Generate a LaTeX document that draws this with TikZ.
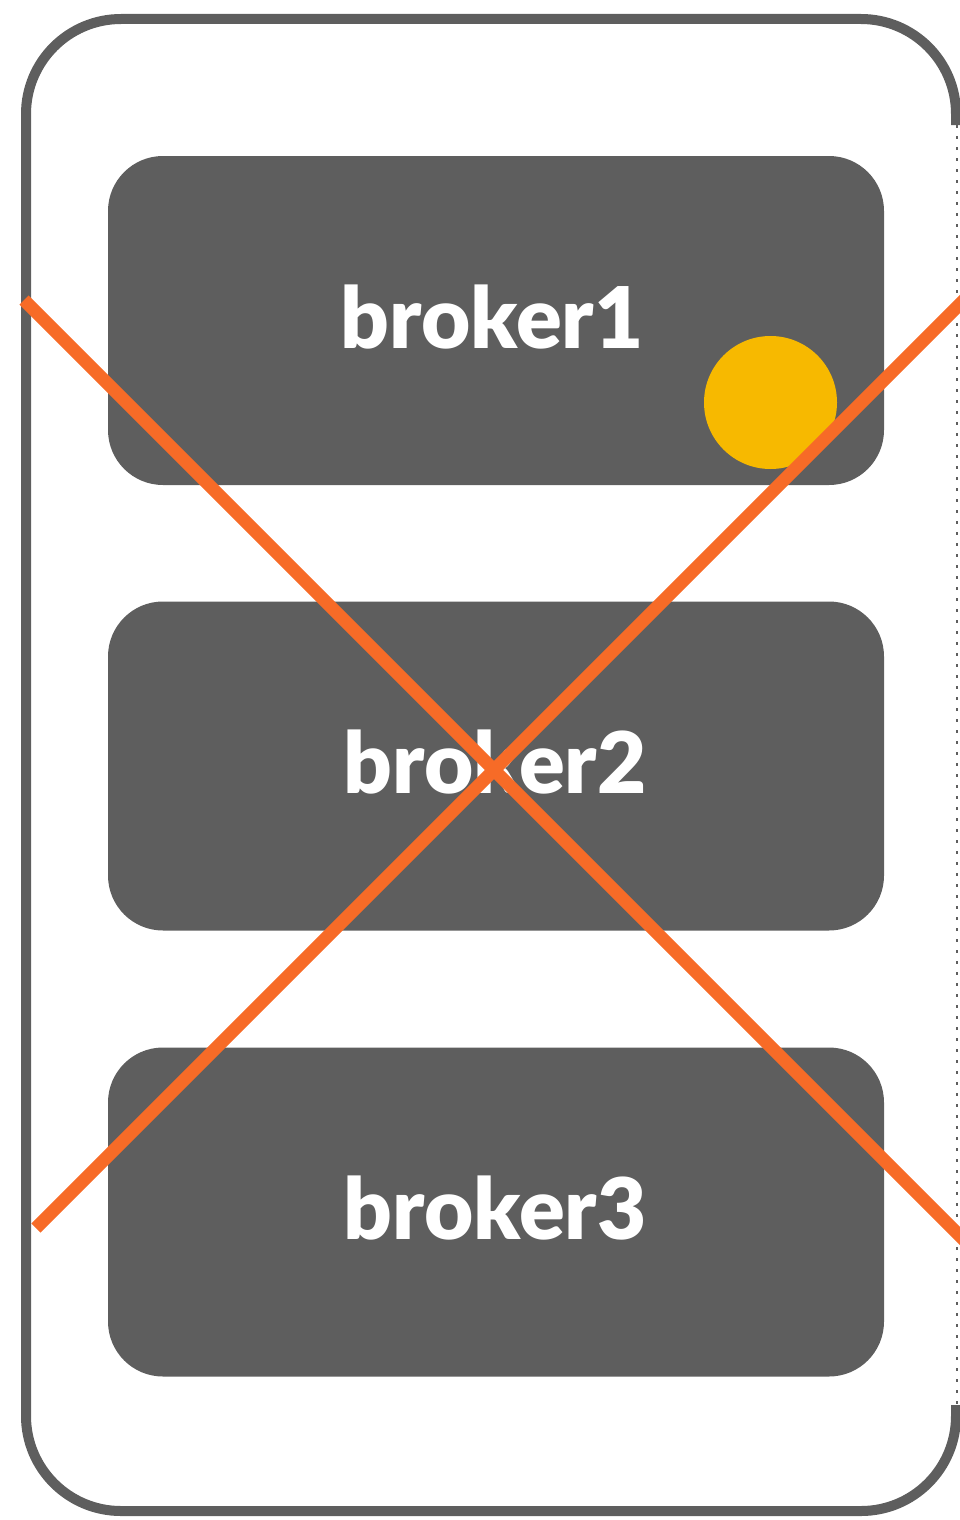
\documentclass[tikz,border=0pt]{standalone}
\usepackage{fontspec}
\newfontfamily\heavy{Lato}[UprightFont={* Black}]
\definecolor{boxgray}{HTML}{5E5E5E}
\definecolor{sunyellow}{HTML}{F7B900}
\definecolor{crossorange}{HTML}{F76B27}
\begin{document}
\begin{tikzpicture}[x=1pt,y=-1pt,
  brokerbox/.style={fill=boxgray,rounded corners=55pt,minimum width=776pt,minimum height=329pt,inner sep=0pt},
  brokertext/.style={text=white,font=\heavy\fontsize{85}{85}\selectfont,anchor=base,inner sep=0pt},
  crossline/.style={draw=crossorange,line width=13pt},
  frameline/.style={draw=boxgray,line width=10pt,rounded corners=95pt}]
\useasboundingbox (0,0) rectangle (959,1520);
% outer frame
\draw[frameline] (956,125) -- (956,19) -- (26,19) -- (26,1511) -- (956,1511) -- (956,1405);
\draw[boxgray,line width=2pt,dash pattern=on 3pt off 8pt] (957,125) -- (957,1405);
% brokers
\node[brokerbox] (b1) at (496,320.5) {};
\node[brokerbox] (b2) at (496,766) {};
\node[brokerbox] (b3) at (496,1212) {};
\node[brokertext] (t1) at (492,348) {broker1};
\node[brokertext] (t2) at (495,793) {broker2};
\node[brokertext] (t3) at (495,1239) {broker3};
\node[circle,fill=sunyellow,minimum size=133pt,inner sep=0pt] (c) at (770.5,402.5) {};
% cross
\coordinate (l1a) at (24,300);
\coordinate (l1b) at (975,1251);
\coordinate (l2a) at (36,1228);
\coordinate (l2b) at (975,289);
\draw[crossline] (l1a) -- (l1b);
\draw[crossline] (l2a) -- (l2b);
\end{tikzpicture}
\end{document}
